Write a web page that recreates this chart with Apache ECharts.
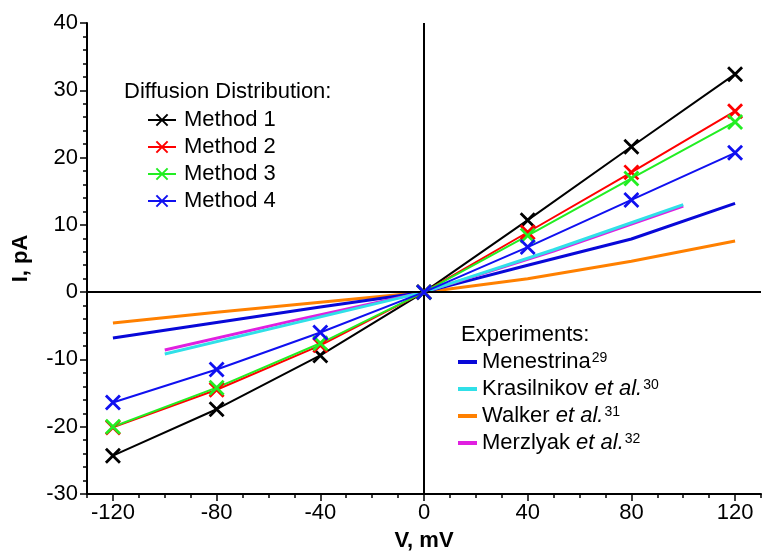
<!DOCTYPE html>
<html>
<head>
<meta charset="utf-8">
<script src="https://cdn.jsdelivr.net/npm/echarts@6/dist/echarts.min.js"></script>
<style>
html,body{margin:0;padding:0;background:#fff;}
#chart{width:762px;height:555px;}
</style>
</head>
<body>
<div id="chart"></div>
<script>
// ---- data ----
var vMethods = [-120, -80, -40, 0, 40, 80, 120];
var method1 = [-24.3, -17.4, -9.4, 0, 10.7, 21.6, 32.4];
var method2 = [-20.1, -14.5, -7.9, 0, 8.9, 17.8, 26.9];
var method3 = [-20.0, -14.2, -7.6, 0, 8.4, 16.9, 25.3];
var method4 = [-16.4, -11.5, -6.0, 0, 6.7, 13.7, 20.7];

var vExp1 = [-120, -80, -40, 0, 40, 80, 120];
var menestrina = [-6.8, -4.5, -2.2, 0, 4.0, 7.9, 13.2];
var walker = [-4.6, -3.0, -1.5, 0, 2.0, 4.6, 7.6];
var vExp2 = [-100, -50, 0, 50, 100];
var krasilnikov = [-9.2, -4.6, 0, 6.3, 13.0];
var merzlyak = [-8.6, -4.2, 0, 6.1, 12.8];

var xMajorTicks = [-120, -80, -40, 0, 40, 80, 120];
var methodNames = ['Method 1', 'Method 2', 'Method 3', 'Method 4'];
var expNames = ['Menestrina', 'Krasilnikov', 'Walker', 'Merzlyak'];
var expLabels = {
  'Menestrina': '{n|Menestrina}{s|29}',
  'Krasilnikov': '{n|Krasilnikov }{i|et al.}{s|30}',
  'Walker': '{n|Walker }{i|et al.}{s|31}',
  'Merzlyak': '{n|Merzlyak }{i|et al.}{s|32}'
};

function zip(xs, ys) { return xs.map(function (x, i) { return [x, ys[i]]; }); }

var FONT = 'Liberation Sans, Arial, sans-serif';
var XSYM = 'path://M0,0L10,10M10,0L0,10';

function methodSeries(name, data, color) {
  return {
    name: name, type: 'line', data: zip(vMethods, data),
    symbol: XSYM, symbolSize: 14, symbolKeepAspect: true,
    lineStyle: { color: color, width: 2 },
    itemStyle: { color: color, borderColor: color, borderWidth: 2.8 },
    emphasis: { disabled: true }, animation: false, z: 5
  };
}
function expSeries(name, xs, data, color, width) {
  return {
    name: name, type: 'line', data: zip(xs, data),
    symbol: 'none', showSymbol: false,
    lineStyle: { color: color, width: width },
    itemStyle: { color: color },
    emphasis: { disabled: true }, animation: false, z: 3
  };
}

var rich = {
  n: { fontSize: 22, fontFamily: FONT, color: '#000', lineHeight: 22 },
  i: { fontSize: 22, fontFamily: FONT, color: '#000', fontStyle: 'italic', lineHeight: 22 },
  s: { fontSize: 14, fontFamily: FONT, color: '#000', lineHeight: 14, verticalAlign: 'top', padding: [0, 0, 0, 1] }
};

var walkerS = expSeries('Walker', vExp1, walker, '#ff8000', 3);
walkerS.markLine = {
  silent: true, symbol: ['none', 'none'], label: { show: false },
  lineStyle: { color: '#000', width: 2, type: 'solid' },
  data: [{ xAxis: 0 }, { yAxis: 0 }], animation: false
};
walkerS.z = 2;

var option = {
  animation: false,
  backgroundColor: '#fff',
  grid: { left: 87, right: 1, top: 23, bottom: 61, containLabel: false, outerBoundsMode: 'none' },
  xAxis: [{
    type: 'value', min: -130, max: 130, interval: 10,
    name: 'V, mV', nameLocation: 'middle', nameGap: 36,
    nameTextStyle: { fontSize: 22, fontWeight: 'bold', fontFamily: FONT, color: '#000' },
    axisLine: { show: true, onZero: false, lineStyle: { color: '#000', width: 2 } },
    axisTick: { show: true, length: 4, lineStyle: { color: '#000', width: 1.5 } },
    axisLabel: {
      fontSize: 22, fontFamily: FONT, color: '#000', margin: 8,
      formatter: function (v) { return xMajorTicks.indexOf(v) >= 0 ? String(v) : ''; }
    },
    splitLine: { show: false }
  }, {
    type: 'value', min: -130, max: 130, position: 'bottom',
    axisLine: { show: false, onZero: false },
    axisTick: { show: true, length: 7, customValues: xMajorTicks, lineStyle: { color: '#000', width: 1.5 } },
    axisLabel: { show: false },
    splitLine: { show: false }
  }],
  yAxis: {
    type: 'value', min: -30, max: 40, interval: 10,
    name: 'I, pA', nameLocation: 'middle', nameGap: 55,
    nameTextStyle: { fontSize: 22, fontWeight: 'bold', fontFamily: FONT, color: '#000' },
    axisLine: { show: true, onZero: false, lineStyle: { color: '#000', width: 2 } },
    axisTick: { show: true, length: 7, lineStyle: { color: '#000', width: 1.5 } },
    minorTick: { show: true, splitNumber: 5, length: 4, lineStyle: { color: '#000', width: 1.5 } },
    axisLabel: { fontSize: 22, fontFamily: FONT, color: '#000', margin: 9 },
    splitLine: { show: false }
  },
  legend: [{
    data: methodNames, orient: 'vertical', left: 147, top: 109, padding: 0,
    itemWidth: 28, itemHeight: 14, itemGap: 5,
    textStyle: { fontSize: 22, fontFamily: FONT, color: '#000', lineHeight: 22, padding: [0, 0, 0, 3] },
    selectedMode: false
  }, {
    data: expNames.map(function (n) { return { name: n, icon: 'rect' }; }),
    orient: 'vertical', left: 458, top: 351, padding: 0,
    itemWidth: 19, itemHeight: 4, itemGap: 5,
    formatter: function (n) { return expLabels[n]; },
    textStyle: { fontSize: 22, fontFamily: FONT, color: '#000', lineHeight: 22, rich: rich },
    selectedMode: false
  }],
  graphic: [{
    type: 'text', left: 124, top: 81,
    style: { text: 'Diffusion Distribution:', fontSize: 22, fontFamily: FONT, fill: '#000' }
  }, {
    type: 'text', left: 461, top: 324,
    style: { text: 'Experiments:', fontSize: 22, fontFamily: FONT, fill: '#000' }
  }],
  series: [
    walkerS,
    expSeries('Menestrina', vExp1, menestrina, '#0808d8', 3),
    expSeries('Merzlyak', vExp2, merzlyak, '#e020e0', 3),
    expSeries('Krasilnikov', vExp2, krasilnikov, '#30e0e8', 3),
    methodSeries('Method 1', method1, '#000000'),
    methodSeries('Method 2', method2, '#ff0000'),
    methodSeries('Method 3', method3, '#22ee22'),
    methodSeries('Method 4', method4, '#1010f0')
  ]
};

var chart = echarts.init(document.getElementById('chart'), null, { renderer: 'canvas' });
chart.setOption(option);
</script>
</body>
</html>
